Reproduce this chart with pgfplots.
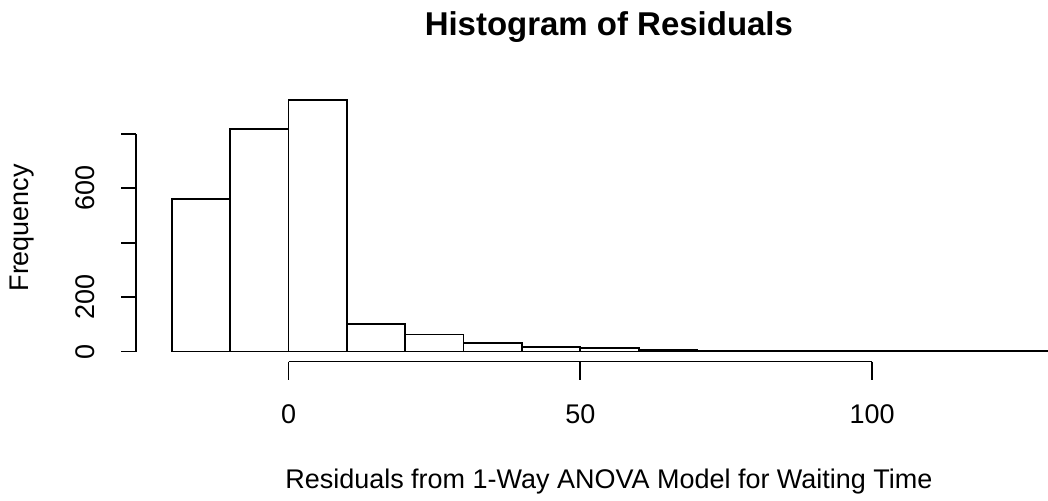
\documentclass[border=0pt]{standalone}
\usepackage{pgfplots}
\pgfplotsset{compat=1.18}
\usepackage{fontspec}
\setmainfont{Liberation Sans}
\begin{document}
\begin{tikzpicture}
\begin{axis}[
  scale only axis, width=438pt, height=126pt,
  xmin=-20, xmax=130, ymin=0, ymax=925,
  hide axis, clip=false,
]
\addplot[ybar interval, fill=white, draw=black, line width=0.9pt] table {
x y
-20 561
-10 817
0 925
10 102
20 63
30 32
40 18
50 12
60 6
70 4
80 1
90 1
100 1
110 1
120 1
130 1
};
% bounding box matching reference proportions
\path (axis cs:-49.45,-539.4) rectangle (axis cs:130,1291.7);
% y axis
\draw[line width=0.9pt] (axis cs:-26.15,0) -- (axis cs:-26.15,800);
\pgfplotsinvokeforeach{0,200,400,600,800}{
  \draw[line width=0.9pt] (axis cs:-26.15,#1) -- (axis cs:-28.72,#1);
}
\pgfplotsinvokeforeach{0,200,600}{
  \node[rotate=90, font=\fontsize{13.5}{16}\selectfont] at (axis cs:-34.9,#1) {#1};
}
% x axis
\draw[line width=0.9pt] (axis cs:0,-36.7) -- (axis cs:100,-36.7);
\pgfplotsinvokeforeach{0,50,100}{
  \draw[line width=0.9pt] (axis cs:#1,-36.7) -- (axis cs:#1,-102.7);
  \node[font=\fontsize{13.5}{16}\selectfont] at (axis cs:#1,-231) {#1};
}
\node[font=\bfseries\fontsize{16.5}{19}\selectfont] at (axis cs:54.9,1193) {Histogram of Residuals};
\node[font=\fontsize{13.5}{16}\selectfont] at (axis cs:54.9,-477) {Residuals from 1-Way ANOVA Model for Waiting Time};
\node[rotate=90, font=\fontsize{13.5}{16}\selectfont] at (axis cs:-45.6,455) {Frequency};
\end{axis}
\end{tikzpicture}
\end{document}
